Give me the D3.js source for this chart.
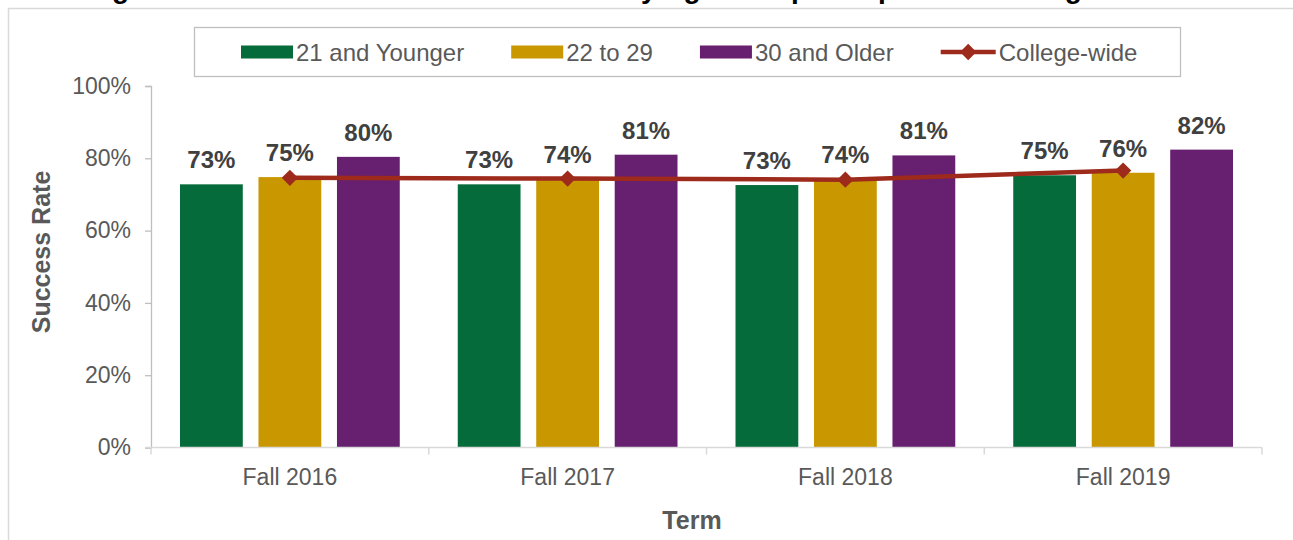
<!DOCTYPE html>
<html>
<head>
<meta charset="utf-8">
<script src="https://cdn.jsdelivr.net/npm/d3@7"></script>
<style>
  body { margin: 0; background: #fff; }
  svg { display: block; font-family: Arial, "Liberation Sans", sans-serif; }
</style>
</head>
<body>
<div id="chart"></div>
<script>
var terms = ["Fall 2016", "Fall 2017", "Fall 2018", "Fall 2019"];
var groups = ["21 and Younger", "22 to 29", "30 and Older"];
var younger = [0.728, 0.728, 0.726, 0.753];
var middle = [0.748, 0.744, 0.742, 0.760];
var older = [0.804, 0.810, 0.808, 0.824];
var collegeWide = [0.746, 0.744, 0.741, 0.766];
var yTicks = [0, 0.2, 0.4, 0.6, 0.8, 1.0];
var colors = ["#066b3a", "#c99700", "#671f70"];
var lineColor = "#9e2a1b";

var width = 1293, height = 540;
var svg = d3.select("#chart").append("svg")
    .attr("width", width)
    .attr("height", height);

// outer chart frame (runs off the page)
svg.append("rect")
    .attr("x", 8.5).attr("y", 8.5)
    .attr("width", 1320).attr("height", 580)
    .attr("fill", "none")
    .attr("stroke", "#d9d9d9")
    .attr("stroke-width", 1.5);

// title, cut off at the top edge like in the source
svg.append("text")
    .attr("x", 87).attr("y", -2.5)
    .style("font-size", "28px")
    .style("font-weight", "bold")
    .attr("fill", "#000")
    .text("Figure 14: Fall Semester Success Rates by Age Group Compared to College-wide");

var x0 = d3.scaleBand().domain(terms).range([151, 1262]);
var x1 = d3.scaleBand().domain(groups)
    .range([29, x0.bandwidth() - 29])
    .paddingInner(0.2);
var y = d3.scaleLinear().domain([0, 1]).range([447.5, 86]);

var series = [younger, middle, older];
var rows = [];
terms.forEach(function(t, i){
    groups.forEach(function(g, j){
        rows.push({term: t, group: g, value: series[j][i], color: colors[j]});
    });
});

// y axis
var yAxis = d3.axisLeft(y).tickValues(yTicks)
    .tickFormat(d3.format(".0%"))
    .tickSize(6).tickPadding(14);
var gy = svg.append("g")
    .attr("transform", "translate(151,0)")
    .call(yAxis);
gy.select(".domain").attr("stroke", "#bfbfbf").attr("stroke-width", 1.3);
gy.selectAll(".tick line").attr("stroke", "#bfbfbf").attr("stroke-width", 1.3);
gy.selectAll("text").style("font-size", "23px").attr("fill", "#595959");

// bars
svg.selectAll(".bar").data(rows).enter().append("rect")
    .attr("class", "bar")
    .attr("x", function(d){ return x0(d.term) + x1(d.group); })
    .attr("y", function(d){ return y(d.value); })
    .attr("width", x1.bandwidth())
    .attr("height", function(d){ return y(0) - y(d.value); })
    .attr("fill", function(d){ return d.color; });

// x axis
svg.append("line")
    .attr("x1", 145).attr("x2", x0.range()[1])
    .attr("y1", y(0)).attr("y2", y(0))
    .attr("stroke", "#d9d9d9").attr("stroke-width", 1.5);
var bounds = terms.map(function(t){ return x0(t); }).concat([x0.range()[1]]);
svg.selectAll(".xtick").data(bounds).enter().append("line")
    .attr("class", "xtick")
    .attr("x1", function(d){ return d; }).attr("x2", function(d){ return d; })
    .attr("y1", y(0)).attr("y2", y(0) + 7)
    .attr("stroke", "#d9d9d9").attr("stroke-width", 1.5);
var xAxis = d3.axisBottom(x0).tickSize(0).tickPadding(21);
var gx = svg.append("g")
    .attr("transform", "translate(0," + y(0) + ")")
    .call(xAxis);
gx.select(".domain").remove();
gx.selectAll("text").style("font-size", "23px").attr("fill", "#595959");

// data labels
svg.selectAll(".lbl").data(rows).enter().append("text")
    .attr("class", "lbl")
    .attr("x", function(d){ return x0(d.term) + x1(d.group) + x1.bandwidth() / 2; })
    .attr("y", function(d){ return y(d.value) - 16; })
    .attr("text-anchor", "middle")
    .style("font-size", "24px")
    .style("font-weight", "bold")
    .attr("fill", "#404040")
    .text(function(d){ return d3.format(".0%")(d.value); });

// college-wide line
var line = d3.line()
    .x(function(d, i){ return x0(terms[i]) + x0.bandwidth() / 2; })
    .y(function(d){ return y(d); });
svg.append("path")
    .datum(collegeWide)
    .attr("d", line)
    .attr("fill", "none")
    .attr("stroke", lineColor)
    .attr("stroke-width", 4.5);
var diamond = d3.symbol().type(d3.symbolDiamond2).size(170);
svg.selectAll(".pt").data(collegeWide).enter().append("path")
    .attr("class", "pt")
    .attr("d", diamond)
    .attr("transform", function(d, i){
        return "translate(" + (x0(terms[i]) + x0.bandwidth() / 2) + "," + y(d) + ")";
    })
    .attr("fill", lineColor);

// axis titles
svg.append("text")
    .attr("transform", "translate(50,252) rotate(-90)")
    .attr("text-anchor", "middle")
    .style("font-size", "25px")
    .style("font-weight", "bold")
    .attr("fill", "#595959")
    .text("Success Rate");
svg.append("text")
    .attr("x", 692).attr("y", 529)
    .attr("text-anchor", "middle")
    .style("font-size", "25px")
    .style("font-weight", "bold")
    .attr("fill", "#595959")
    .text("Term");

// legend
svg.append("rect")
    .attr("x", 194.5).attr("y", 27.5)
    .attr("width", 986).attr("height", 49)
    .attr("fill", "#fff")
    .attr("stroke", "#bfbfbf")
    .attr("stroke-width", 1.3);
var legendItems = groups.concat(["College-wide"]);
var lx = 241;
legendItems.forEach(function(name, i){
    var g = svg.append("g").attr("transform", "translate(" + lx + ",52)");
    if (i < 3) {
        g.append("rect")
            .attr("x", 0).attr("y", -6.5)
            .attr("width", 52).attr("height", 13)
            .attr("fill", colors[i]);
    } else {
        g.append("line")
            .attr("x1", 0).attr("x2", 55)
            .attr("y1", 0).attr("y2", 0)
            .attr("stroke", lineColor).attr("stroke-width", 4.5);
        g.append("path")
            .attr("d", diamond)
            .attr("transform", "translate(27.5,0)")
            .attr("fill", lineColor);
    }
    var t = g.append("text")
        .attr("x", i < 3 ? 55 : 58).attr("y", 8.5)
        .style("font-size", "24px")
        .attr("fill", "#595959")
        .text(name);
    lx += (i < 3 ? 55 : 58) + t.node().getComputedTextLength() + 47;
});
</script>
</body>
</html>
